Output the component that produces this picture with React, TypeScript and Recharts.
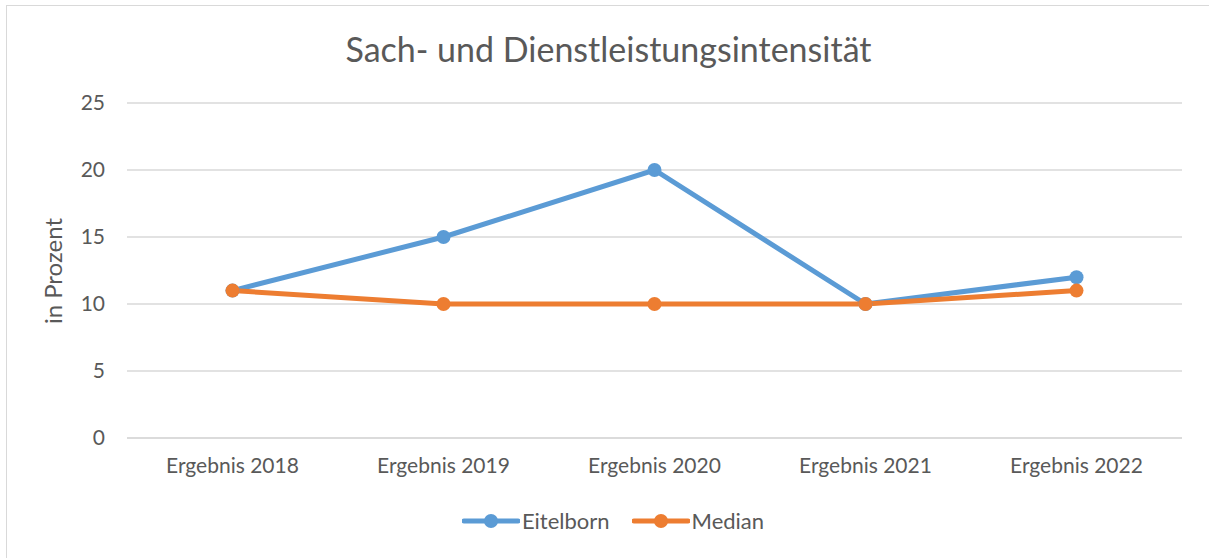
import React from "react";
import { LineChart, Line, XAxis, YAxis, CartesianGrid } from "recharts";

const categories = [
  "Ergebnis 2018",
  "Ergebnis 2019",
  "Ergebnis 2020",
  "Ergebnis 2021",
  "Ergebnis 2022",
];
const eitelborn = [11, 15, 20, 10, 12];
const median = [11, 10, 10, 10, 11];
const yTicks = [0, 5, 10, 15, 20, 25];

const BLUE = "#5B9BD5";
const ORANGE = "#ED7D31";
const GRID = "#D9D9D9";
const TEXT = "#595959";
const FONT = "Lato, 'Open Sans', sans-serif";

const data = categories.map((name, i) => ({
  name,
  Eitelborn: eitelborn[i],
  Median: median[i],
}));

function LegendContent() {
  const items = [
    { label: "Eitelborn", color: BLUE },
    { label: "Median", color: ORANGE },
  ];
  return (
    <div
      style={{
        display: "flex",
        justifyContent: "center",
        gap: 22,
        fontFamily: FONT,
        fontSize: 22,
        color: TEXT,
      }}
    >
      {items.map((it) => (
        <div key={it.label} style={{ display: "flex", alignItems: "center" }}>
          <svg width={58} height={16} style={{ marginRight: 2 }}>
            <line
              x1={2}
              y1={8}
              x2={56}
              y2={8}
              stroke={it.color}
              strokeWidth={5}
              strokeLinecap="round"
            />
            <circle cx={29} cy={8} r={7} fill={it.color} />
          </svg>
          <span>{it.label}</span>
        </div>
      ))}
    </div>
  );
}

export default function App() {
  return (
    <div
      style={{
        position: "absolute",
        left: 0,
        top: 0,
        width: 1209,
        height: 558,
        background: "#fff",
        overflow: "hidden",
      }}
    >
      <div
        style={{
          position: "absolute",
          left: 6,
          top: 5,
          width: 1210,
          height: 560,
          border: "1px solid #D9D9D9",
          boxSizing: "border-box",
        }}
      />
      <div
        style={{
          position: "absolute",
          left: 0,
          top: 28,
          width: 1217,
          textAlign: "center",
          fontFamily: FONT,
          fontSize: 34,
          color: TEXT,
        }}
      >
        Sach- und Dienstleistungsintensität
      </div>
      <div style={{ position: "absolute", left: 0, top: 0 }}>
        <LineChart
          width={1209}
          height={558}
          data={data}
          margin={{ top: 103, right: 27, bottom: 90, left: 40 }}
        >
          <CartesianGrid vertical={false} stroke={GRID} strokeWidth={1.5} />
          <XAxis
            dataKey="name"
            scale="band"
            axisLine={{ stroke: GRID, strokeWidth: 1.5 }}
            tickLine={false}
            tickSize={0}
            tickMargin={20}
            tick={{ fill: TEXT, fontFamily: FONT, fontSize: 21 }}
          />
          <YAxis
            width={87}
            domain={[0, 25]}
            ticks={yTicks}
            axisLine={false}
            tickLine={false}
            tickSize={0}
            tickMargin={22}
            tick={{ fill: TEXT, fontFamily: FONT, fontSize: 21 }}
            label={{
              content: () => (
                <text
                  x={62}
                  y={271}
                  transform="rotate(-90 62 271)"
                  textAnchor="middle"
                  fill={TEXT}
                  fontFamily={FONT}
                  fontSize={24}
                >
                  in Prozent
                </text>
              ),
            }}
          />
          <Line
            type="linear"
            dataKey="Eitelborn"
            stroke={BLUE}
            strokeWidth={5}
            dot={{ r: 7, fill: BLUE, stroke: BLUE, strokeWidth: 0 }}
            isAnimationActive={false}
          />
          <Line
            type="linear"
            dataKey="Median"
            stroke={ORANGE}
            strokeWidth={5}
            dot={{ r: 7, fill: ORANGE, stroke: ORANGE, strokeWidth: 0 }}
            isAnimationActive={false}
          />
        </LineChart>
      </div>
      <div style={{ position: "absolute", left: 0, top: 507, width: 1226 }}>
        <LegendContent />
      </div>
    </div>
  );
}
